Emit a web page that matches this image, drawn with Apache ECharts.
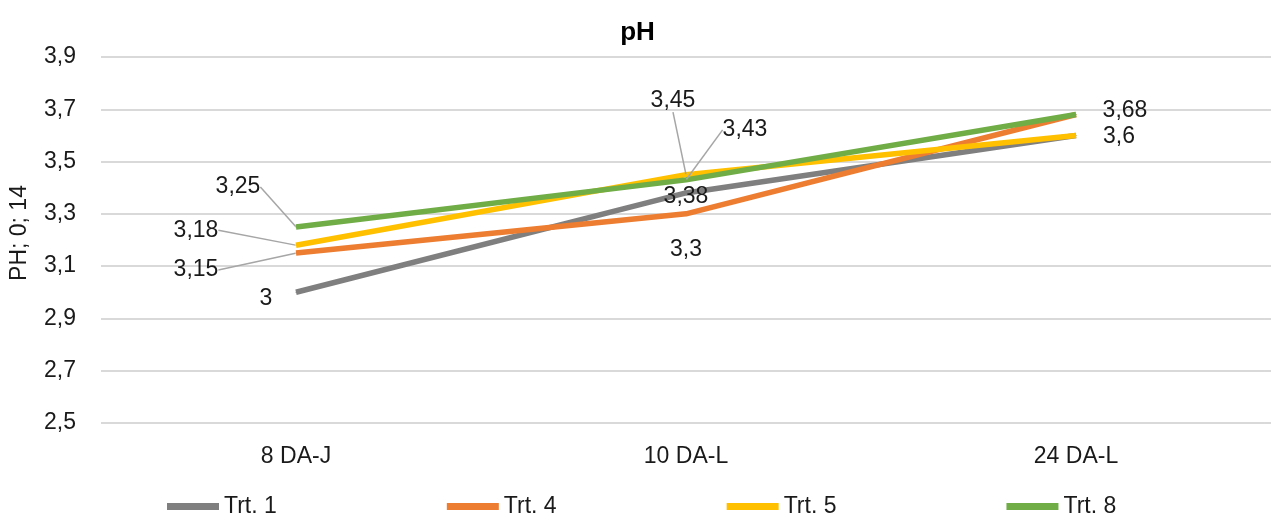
<!DOCTYPE html>
<html>
<head>
<meta charset="utf-8">
<script src="https://cdn.jsdelivr.net/npm/echarts@6/dist/echarts.min.js"></script>
<style>
html,body{margin:0;padding:0;background:#fff;}
#chart{width:1275px;height:516px;}
</style>
</head>
<body>
<div id="chart"></div>
<script>
var categories = ['8 DA-J', '10 DA-L', '24 DA-L'];
var seriesNames = ['Trt. 1', 'Trt. 4', 'Trt. 5', 'Trt. 8'];
var trt1 = [3, 3.38, 3.6];
var trt4 = [3.15, 3.3, 3.68];
var trt5 = [3.18, 3.45, 3.6];
var trt8 = [3.25, 3.43, 3.68];
var colorList = ['#7f7f7f', '#ed7d31', '#ffc000', '#70ad47'];

// where each data label sits, relative to its point (null = hidden)
var labelShift = [
    [[-30, 6], [0, 4], null],
    [[-100, 17], [0, 36], [49, -4]],
    [[-100, -15], [-13, -74], [43, 1]],
    [[-58, -40], [59, -50], null]
];
// which labels get a leader line
var leader = [
    [false, false, false],
    [true, false, false],
    [true, true, false],
    [true, true, false]
];

var font = 'Liberation Sans';
var fs = 23;
var chart = echarts.init(document.getElementById('chart'));

function fmt(v) {
    return String(v).replace('.', ',');
}

var allSeries = [trt1, trt4, trt5, trt8];
var seriesData = [];
for (var s = 0; s < allSeries.length; s++) {
    (function (s) {
        var items = [];
        for (var i = 0; i < allSeries[s].length; i++) {
            items.push({
                value: allSeries[s][i],
                label: {show: labelShift[s][i] != null},
                labelLine: {show: leader[s][i]}
            });
        }
        seriesData.push({
            name: seriesNames[s],
            type: 'line',
            data: items,
            symbol: 'circle',
            symbolSize: 1,
            showSymbol: true,
            z: 2 + s,
            itemStyle: {color: colorList[s]},
            lineStyle: {width: 5.5, color: colorList[s]},
            label: {
                position: 'inside',
                fontFamily: font,
                fontSize: fs,
                color: '#1a1a1a',
                formatter: function (p) { return fmt(p.value); }
            },
            labelLine: {
                lineStyle: {color: '#a6a6a6', width: 1.5}
            },
            labelLayout: function (p) {
                var sh = labelShift[s][p.dataIndex];
                if (!sh) return {};
                var cx = p.rect.x + p.rect.width / 2;
                var cy = p.rect.y + p.rect.height / 2;
                return {
                    x: cx + sh[0],
                    y: cy + sh[1],
                    align: 'center',
                    verticalAlign: 'middle',
                    hideOverlap: false
                };
            },
            emphasis: {disabled: true},
            animation: false
        });
    })(s);
}

var option = {
    backgroundColor: '#fff',
    animation: false,
    title: {
        text: 'pH',
        left: 'center',
        top: 15,
        textStyle: {fontFamily: font, fontSize: 26, fontWeight: 'bold', color: '#000'}
    },
    grid: {left: 98, right: 4, top: 57, bottom: 93, containLabel: false},
    legend: {
        left: 162,
        top: 490,
        itemWidth: 52,
        itemHeight: 7,
        itemGap: 170,
        icon: 'rect',
        data: seriesNames,
        textStyle: {fontFamily: font, fontSize: fs, color: '#1a1a1a'}
    },
    xAxis: {
        type: 'category',
        data: categories,
        boundaryGap: true,
        axisLine: {show: false},
        axisTick: {show: false},
        axisLabel: {fontFamily: font, fontSize: fs, color: '#1a1a1a', margin: 22}
    },
    yAxis: {
        type: 'value',
        min: 2.5,
        max: 3.9,
        interval: 0.1,
        name: 'PH; 0; 14',
        nameLocation: 'middle',
        nameGap: 70,
        nameTextStyle: {fontFamily: font, fontSize: fs, color: '#1a1a1a', padding: [0, 0, 0, 14]},
        axisLine: {show: false},
        axisTick: {show: false},
        axisLabel: {
            fontFamily: font,
            fontSize: fs,
            color: '#1a1a1a',
            margin: 25,
            formatter: function (v) {
                return Math.round(v * 10) % 2 === 1 ? fmt(Math.round(v * 10) / 10) : '';
            }
        },
        splitLine: {show: true, lineStyle: {color: ['#d9d9d9', 'rgba(0,0,0,0)'], width: 2}}
    },
    series: seriesData
};
chart.setOption(option);
</script>
</body>
</html>
